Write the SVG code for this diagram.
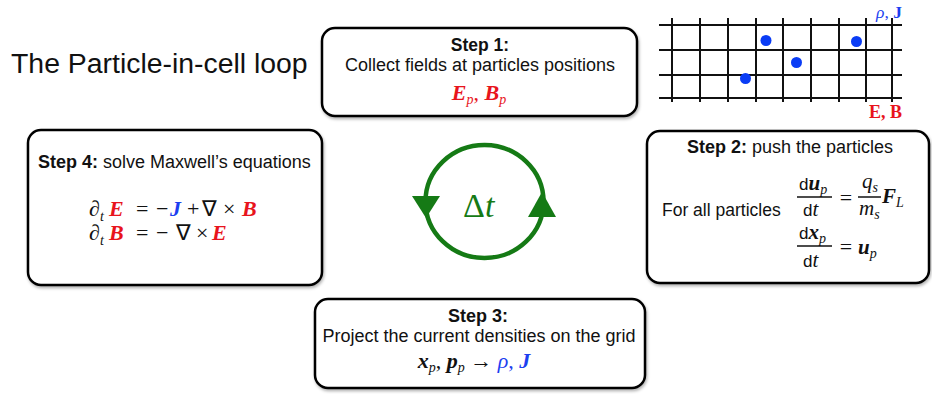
<svg xmlns="http://www.w3.org/2000/svg" width="932" height="394" viewBox="0 0 932 394">
<defs>
<filter id="sh" x="-10%" y="-10%" width="120%" height="130%">
<feDropShadow dx="1" dy="2" stdDeviation="1.5" flood-color="#000" flood-opacity="0.3"/>
</filter>
</defs>
<style>
.box{fill:#fff;stroke:#000;stroke-width:2.5;filter:url(#sh)}
.sans{font-family:"Liberation Sans",Arial,sans-serif;font-size:18px;fill:#111}
.b{font-weight:bold}
.m{font-family:"Liberation Serif","Times New Roman",serif;font-size:22px;fill:#111}
.bi{font-weight:bold;font-style:italic}
.i{font-style:italic}
.red{fill:#e8141c}
.blue{fill:#1c3ff0}
.sub{font-size:14px;font-style:italic;font-weight:normal}
.grid line{stroke:#111;stroke-width:2}
.dot{fill:#0a3cf5}
.frac{stroke:#111;stroke-width:1.5}
.loop{fill:none;stroke:#157a15;stroke-width:4.5}
.ah{fill:#157a15}
</style>
<rect width="932" height="394" fill="#fff"/>
<text id="title" x="11" y="73" style="font-family:'Liberation Sans',Arial,sans-serif;font-size:28.4px;fill:#111">The Particle-in-cell loop</text>

<g id="grid" class="grid">
<line x1="659" y1="25" x2="902" y2="25"/>
<line x1="659" y1="50" x2="902" y2="50"/>
<line x1="659" y1="75" x2="902" y2="75"/>
<line x1="659" y1="98" x2="902" y2="98"/>
<line x1="672" y1="18" x2="672" y2="102"/>
<line x1="700" y1="18" x2="700" y2="102"/>
<line x1="728" y1="18" x2="728" y2="102"/>
<line x1="756" y1="18" x2="756" y2="102"/>
<line x1="783" y1="18" x2="783" y2="102"/>
<line x1="811" y1="18" x2="811" y2="102"/>
<line x1="839" y1="18" x2="839" y2="102"/>
<line x1="866" y1="18" x2="866" y2="102"/>
<line x1="892" y1="18" x2="892" y2="102"/>
<circle class="dot" cx="766" cy="40.5" r="5.5"/>
<circle class="dot" cx="745.5" cy="78.5" r="5.5"/>
<circle class="dot" cx="796.5" cy="62.5" r="5.5"/>
<circle class="dot" cx="856.5" cy="41.5" r="5.5"/>
<text class="m blue" x="902" y="18" text-anchor="end" style="font-size:17.5px"><tspan class="i">ρ</tspan>, <tspan class="b">J</tspan></text>
<text class="m red b" x="902" y="118" text-anchor="end" style="font-size:18px">E, B</text>
</g>

<g id="step1">
<rect class="box" x="322" y="28" width="315" height="88" rx="13"/>
<text class="sans b" x="480" y="51" text-anchor="middle" style="font-size:17.5px">Step 1:</text>
<text class="sans" x="480" y="70.5" text-anchor="middle">Collect fields at particles positions</text>
<text class="m red" x="479" y="100" text-anchor="middle"><tspan class="bi">E</tspan><tspan class="sub" dy="4">p</tspan><tspan dy="-4">, </tspan><tspan class="bi">B</tspan><tspan class="sub" dy="4">p</tspan></text>
</g>

<g id="step4">
<rect class="box" x="28" y="130" width="294" height="155" rx="13"/>
<text class="sans" x="38" y="168"><tspan class="b">Step 4:</tspan> solve Maxwell’s equations</text>
<text class="m" y="216"><tspan x="89" class="i">∂</tspan><tspan class="sub" x="100" dy="5">t</tspan><tspan class="red bi" x="109" dy="-5">E</tspan><tspan x="136">=</tspan><tspan x="156">−</tspan><tspan class="blue bi" x="170">J</tspan><tspan x="187">+</tspan><tspan x="202">∇</tspan><tspan x="223">×</tspan><tspan class="red bi" x="242">B</tspan></text>
<text class="m" y="240"><tspan x="89" class="i">∂</tspan><tspan class="sub" x="100" dy="5">t</tspan><tspan class="red bi" x="109" dy="-5">B</tspan><tspan x="136">=</tspan><tspan x="156">−</tspan><tspan x="176">∇</tspan><tspan x="196">×</tspan><tspan class="red bi" x="212">E</tspan></text>
</g>

<g id="step2">
<rect class="box" x="647" y="131" width="282" height="152" rx="13"/>
<text class="sans" x="790" y="153" text-anchor="middle"><tspan class="b">Step 2:</tspan> push the particles</text>
<text class="sans" x="662" y="216" style="font-size:17.5px">For all particles</text>
<text class="m" y="190" style="font-size:21px"><tspan class="sans" x="799" style="font-size:17px">d</tspan><tspan class="bi">u</tspan><tspan class="sub" dy="4">p</tspan></text>
<line class="frac" x1="797" y1="197" x2="832" y2="197"/>
<text class="m" y="216" style="font-size:21px"><tspan class="sans" x="803" style="font-size:17px">d</tspan><tspan class="i">t</tspan></text>
<text class="m" x="846" y="205" text-anchor="middle">=</text>
<text class="m" y="188" style="font-size:21px"><tspan class="i" x="862">q</tspan><tspan class="sub" dy="4">s</tspan></text>
<line class="frac" x1="858" y1="197" x2="881" y2="197"/>
<text class="m" y="215" style="font-size:21px"><tspan class="i" x="859">m</tspan><tspan class="sub" dy="4">s</tspan></text>
<text class="m" y="203" style="font-size:21px"><tspan class="bi" x="882">F</tspan><tspan class="sub" dy="4">L</tspan></text>
<text class="m" y="238.5" style="font-size:21px"><tspan class="sans" x="799" style="font-size:17px">d</tspan><tspan class="bi">x</tspan><tspan class="sub" dy="4">p</tspan></text>
<line class="frac" x1="797" y1="246" x2="832" y2="246"/>
<text class="m" y="267" style="font-size:21px"><tspan class="sans" x="803" style="font-size:17px">d</tspan><tspan class="i">t</tspan></text>
<text class="m" x="846" y="254" text-anchor="middle">=</text>
<text class="m" y="254" style="font-size:21px"><tspan class="bi" x="858">u</tspan><tspan class="sub" dy="4">p</tspan></text>
</g>

<g id="step3">
<rect class="box" x="315" y="299" width="330" height="89" rx="13"/>
<text class="sans b" x="478" y="322" text-anchor="middle">Step 3:</text>
<text class="sans" x="479" y="342" text-anchor="middle">Project the current densities on the grid</text>
<text class="m" x="474" y="368" text-anchor="middle"><tspan class="bi">x</tspan><tspan class="sub" dy="4">p</tspan><tspan dy="-4">, </tspan><tspan class="bi">p</tspan><tspan class="sub" dy="4">p</tspan><tspan dy="-4"> → </tspan><tspan class="blue i">ρ</tspan><tspan class="blue">, </tspan><tspan class="blue bi">J</tspan></text>
</g>

<g id="connectors">
<ellipse class="loop" cx="484.5" cy="201.5" rx="59" ry="56.5"/>
<polygon class="ah" points="412,196 440,196 426,218"/>
<polygon class="ah" points="528,217 556,217 542,192"/>
<text x="463" y="217" style="font-family:'Liberation Serif','Times New Roman',serif;font-size:34px;fill:#157a15">Δ<tspan font-style="italic">t</tspan></text>
</g>
</svg>
